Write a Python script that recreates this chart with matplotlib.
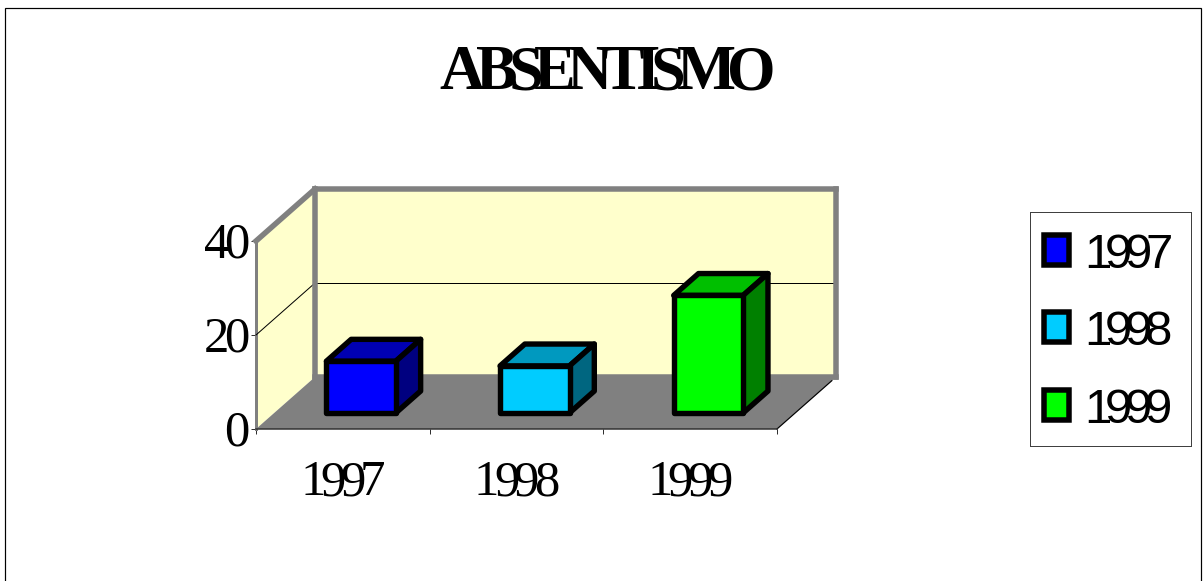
import matplotlib
matplotlib.use('Agg')
import matplotlib.pyplot as plt
from matplotlib import font_manager
from matplotlib.ft2font import LoadFlags
from matplotlib.patches import Rectangle
from matplotlib.text import Text
from matplotlib.transforms import IdentityTransform, offset_copy

# Data
years = ['1997', '1998', '1999']
absences = [11, 10, 25]
y_ticks = [0, 20, 40]
title = 'ABSENTISMO'

# Colours of each bar: front, top, side
front_colors = ['#0000FF', '#00CCFF', '#00FF00']
top_colors = ['#0000B3', '#0099BF', '#00BF00']
side_colors = ['#000080', '#006680', '#008000']

W, H = 1203, 581
GRAY = '#808080'
WALL = '#FFFFCC'
PX = 0.72  # one pixel in points at dpi 100


class TrackedText(Text):
    # One text with tighter letter spacing, which matplotlib has no option for
    def __init__(self, *args, tracking=0, **kwargs):
        super().__init__(*args, **kwargs)
        self.tracking = tracking

    def draw(self, renderer):
        fp = self.get_fontproperties()
        font = font_manager.get_font(font_manager.findfont(fp))
        font.set_size(fp.get_size_in_points(), self.figure.dpi)
        s = self.get_text()
        advances = []
        for ch in s:
            glyph = font.load_char(ord(ch), flags=LoadFlags.NO_HINTING)
            advances.append(glyph.linearHoriAdvance / 65536 + self.tracking)
        total = sum(advances) - self.tracking
        x, y = self.get_transform().transform(self.get_position())
        if self.get_ha() == 'center':
            x -= total / 2
        elif self.get_ha() == 'right':
            x -= total
        for ch, adv in zip(s, advances):
            t = Text(x, y, ch, fontproperties=fp, color=self.get_color(),
                     ha='left', va='baseline', transform=IdentityTransform())
            t.set_figure(self.figure)
            t.draw(renderer)
            x += adv


def px_rect(left, top, right, bottom):
    return [left / W, 1 - bottom / H, (right - left) / W, (bottom - top) / H]


fig = plt.figure(figsize=(W / 100, H / 100), dpi=100)

# Outer chart border
fig.add_artist(Rectangle((5 / W, -0.05), 1196 / W, 1.05 - 8 / H, fill=False,
                         edgecolor='black', linewidth=1.2 * PX,
                         transform=fig.transFigure))

# Front plane of the chart is the axes, the depth is an offset in data units
ax = fig.add_axes(px_rect(256, 241, 777, 429))
ax.set_xlim(0, 3)
ax.set_ylim(0, 40)
ax.patch.set_visible(False)

DX = 59 / (521 / 3)
DY = 52 / (188 / 40)


def pt(x, value, depth):
    return x + depth * DX, value + depth * DY


def poly(points, **kwargs):
    xs, ys = zip(*points)
    ax.fill(xs, ys, clip_on=False, **kwargs)


def line(a, b, **kwargs):
    ax.plot([a[0], b[0]], [a[1], b[1]], clip_on=False, **kwargs)


# Walls and floor
poly([pt(0, 0, 1), pt(3, 0, 1), pt(3, 40, 1), pt(0, 40, 1)], color=WALL, lw=0, zorder=1)
poly([pt(0, 0, 0), pt(0, 0, 1), pt(0, 40, 1), pt(0, 40, 0)], color=WALL, lw=0, zorder=1)
poly([pt(0, 0, 0), pt(3, 0, 0), pt(3, 0, 1), pt(0, 0, 1)], color=GRAY, lw=0, zorder=2)
floor_front = pt(3, 0, 0)
line(floor_front, pt(3, 0, 0.93), color='black', lw=1.2 * PX, zorder=2)

# Gridlines
for v in y_ticks[1:-1]:
    line(pt(0, v, 0), pt(0, v, 1), color='black', lw=1 * PX, zorder=3)
    line(pt(0, v, 1), pt(3, v, 1), color='black', lw=1 * PX, zorder=3)

# Thick gray frame of the walls
wall_style = dict(color=GRAY, lw=5.5 * PX, zorder=4, solid_capstyle='projecting')
line(pt(0, 40, 0), pt(0, 40, 1), **wall_style)
line(pt(0, 40, 1), pt(3, 40, 1), **wall_style)
line(pt(0, 0, 1), pt(0, 40, 1), **wall_style)
line(pt(3, 0, 1), pt(3, 40, 1), **wall_style)
line(pt(0, 0, 1), pt(3, 0, 1), **wall_style)

# Bars
BAR_W = 0.4
D0, D1 = 0.31, 0.73
for i, v in enumerate(absences):
    x0 = i + 0.5 - BAR_W / 2
    x1 = i + 0.5 + BAR_W / 2
    edge = dict(edgecolor='black', linewidth=5.4 * PX, joinstyle='round', zorder=6)
    poly([pt(x0, v, D0), pt(x1, v, D0), pt(x1, v, D1), pt(x0, v, D1)],
         facecolor=top_colors[i], **edge)
    poly([pt(x1, 0, D0), pt(x1, 0, D1), pt(x1, v, D1), pt(x1, v, D0)],
         facecolor=side_colors[i], **edge)
    poly([pt(x0, 0, D0), pt(x1, 0, D0), pt(x1, v, D0), pt(x0, v, D0)],
         facecolor=front_colors[i], **edge)

# Axes lines and ticks
ax.spines['top'].set_visible(False)
ax.spines['right'].set_visible(False)
ax.spines['left'].set_color(GRAY)
ax.spines['left'].set_linewidth(3 * PX)
ax.spines['bottom'].set_color('#303030')
ax.spines['bottom'].set_linewidth(1.5 * PX)
ax.set_xticks(range(len(years) + 1))
ax.set_yticks(y_ticks)
ax.tick_params(labelbottom=False, labelleft=False, length=5 * PX, width=1 * PX, color='#303030')

# Labels
serif = 'Liberation Serif'
sans = 'Liberation Sans'
xlabel_tr = offset_copy(ax.transData, fig=fig, x=0, y=-66, units='dots')
for i, year in enumerate(years):
    fig.add_artist(TrackedText(i + 0.5, 0, year, transform=xlabel_tr, ha='center',
                               family=serif, size=36.5, tracking=-5.5))
ylabel_tr = offset_copy(ax.transData, fig=fig, x=-6, y=-17, units='dots')
for v in y_ticks:
    fig.add_artist(TrackedText(0, v, str(v), transform=ylabel_tr, ha='right',
                               family=serif, size=36.5, tracking=-5))

fig.add_artist(TrackedText(607.5 / W, 1 - 89 / H, title, ha='center', family=serif,
                           weight='bold', size=45, tracking=-9,
                           transform=fig.transFigure))

# Legend, in pixels of its own box
leg = fig.add_axes(px_rect(1030, 212, 1191, 445.5))
leg.set_xlim(1030, 1191)
leg.set_ylim(445.5, 212)
leg.set_xticks([])
leg.set_yticks([])
for spine in leg.spines.values():
    spine.set_color('#404040')
    spine.set_linewidth(1 * PX)
for i, year in enumerate(years):
    row = 250 + i * 77.5
    leg.add_patch(Rectangle((1044.5, row - 15), 25, 30, facecolor=front_colors[i],
                            edgecolor='black', linewidth=5.5 * PX, joinstyle='miter'))
    fig.add_artist(TrackedText(1084, row + 18, year, transform=leg.transData, ha='left',
                               family=sans, size=35.5, tracking=-7))

fig.savefig('out.png', dpi=100)
